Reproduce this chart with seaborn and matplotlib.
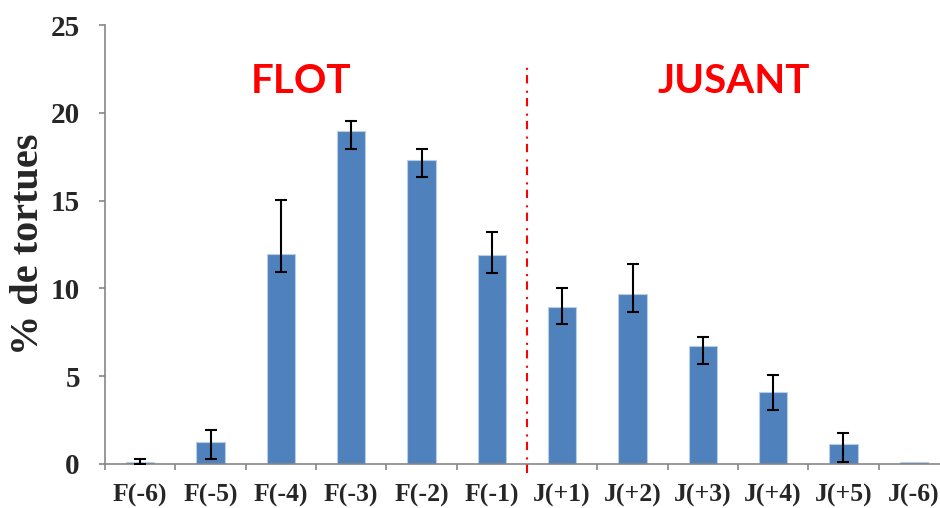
import numpy as np
import pandas as pd
import matplotlib
matplotlib.use("Agg")
import matplotlib.pyplot as plt
import seaborn as sns

# data
categories = ["F(-6)", "F(-5)", "F(-4)", "F(-3)", "F(-2)", "F(-1)",
              "J(+1)", "J(+2)", "J(+3)", "J(+4)", "J(+5)", "J(-6)"]
pct = [0.12, 1.27, 11.96, 18.96, 17.33, 11.88,
       8.96, 9.68, 6.70, 4.10, 1.12, 0.13]
err_low = [0.12, 1.0, 1.0, 1.0, 1.0, 0.98,
           0.99, 1.0, 1.0, 1.0, 1.0, 0.0]
err_high = [0.16, 0.65, 3.1, 0.6, 0.6, 1.35,
            1.05, 1.7, 0.53, 0.95, 0.65, 0.0]

df = pd.DataFrame({"periode": categories, "pct": pct})

sns.set_style("white")
plt.rcParams["font.family"] = ["Liberation Serif", "DejaVu Serif"]

fig = plt.figure(figsize=(9.4, 5.08), dpi=100)
ax = fig.add_axes([105 / 940, 44 / 508, 844 / 940, 439 / 508])

sns.barplot(data=df, x="periode", y="pct", order=categories, color="#4F81BD",
            width=0.4, saturation=1, errorbar=None, edgecolor="#B9CDE5",
            linewidth=0.8, ax=ax)

xpos = np.arange(len(categories))
# J(-6) has no visible error bar
has_err = [i for i in xpos if err_low[i] + err_high[i] > 0]
ax.errorbar(xpos[has_err], np.array(pct)[has_err],
            yerr=[np.array(err_low)[has_err], np.array(err_high)[has_err]],
            fmt="none", ecolor="black", elinewidth=1.5, capsize=4.5,
            capthick=1.5, zorder=5)

# split between flood and ebb
ax.plot([5.5, 5.5], [-0.5, 22.68], color="red", lw=1.5,
        linestyle=(0, (4, 2.5, 1, 3.5)), clip_on=False, zorder=6)

ax.text(2.29, 21.8, "FLOT", color="red", fontsize=29, fontweight="bold",
        family=["Lato", "DejaVu Sans"], ha="center", va="center")
ax.text(8.44, 21.8, "JUSANT", color="red", fontsize=29, fontweight="bold",
        family=["Lato", "DejaVu Sans"], ha="center", va="center")

ax.set_xlim(-0.5, 11.5)
ax.set_ylim(0, 25)
ax.set_yticks([0, 5, 10, 15, 20, 25])
ax.set_xticks(xpos, categories)
ax.set_xticks(np.arange(-0.5, 12, 1), minor=True)

ax.set_xlabel("")
ax.set_ylabel("% de tortues", fontsize=29, fontweight="bold", labelpad=3)

for lab in ax.get_xticklabels() + ax.get_yticklabels():
    lab.set_fontweight("bold")

ax.tick_params(axis="x", which="major", length=0, pad=14, labelsize=18.5)
ax.tick_params(axis="x", which="minor", length=4.5, width=1.2, color="#868686",
               direction="out", bottom=True)
ax.tick_params(axis="y", which="major", length=4, width=1.2, color="#868686",
               direction="out", left=True, pad=14, labelsize=21)

for side in ["top", "right"]:
    ax.spines[side].set_visible(False)
for side in ["left", "bottom"]:
    ax.spines[side].set_color("#868686")
    ax.spines[side].set_linewidth(1.2)

fig.savefig("out.png", dpi=100)
